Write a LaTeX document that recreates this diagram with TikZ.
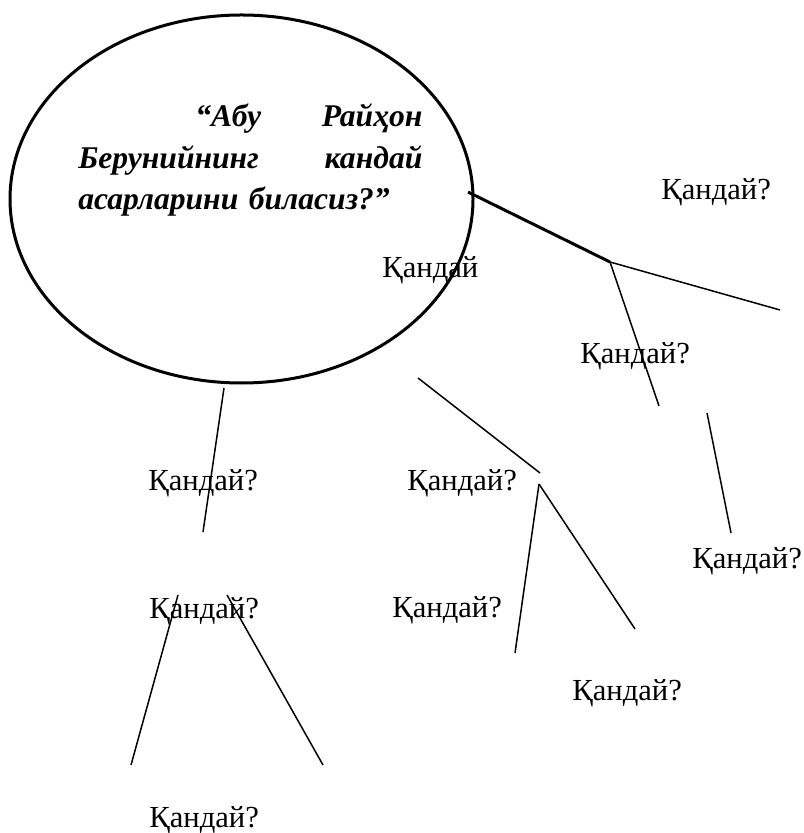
\documentclass[tikz,border=0pt]{standalone}
\usepackage{fontspec}
\setmainfont{Liberation Serif}
\usetikzlibrary{shapes.geometric}

\begin{document}
\begin{tikzpicture}[x=0.5pt, y=-0.5pt, font=\fontsize{15.3}{20.5}\selectfont]
\tikzstyle{ask}=[inner sep=0pt, anchor=base west]
\tikzstyle{twig}=[line width=0.75pt]
\tikzstyle{bough}=[line width=1.5pt]
\useasboundingbox (0,0) rectangle (803,833);
\node[draw, ellipse, line width=1.5pt, minimum width=231.5pt, minimum height=184pt, inner sep=0pt] (egg) at (241.5,199) {};
\node[ask, text width=172pt, align=left, font=\bfseries\itshape\fontsize{15.8}{20.7}\selectfont] (quest) at (78,127)
  {\hspace*{58.5pt}“Абу\hfill Райҳон\\Берунийнинг\hfill кандай\\асарларини биласиз?”};
\node[ask] (q1) at (661,200) {Қандай?};
\node[ask] (q2) at (382,278) {Қандай};
\node[ask] (q3) at (580,364) {Қандай?};
\node[ask] (q4) at (148,490) {Қандай?};
\node[ask] (q5) at (407,490) {Қандай?};
\node[ask] (q6) at (692,568) {Қандай?};
\node[ask] (q7) at (149,618) {Қандай?};
\node[ask] (q8) at (392,617) {Қандай?};
\node[ask] (q9) at (572,700) {Қандай?};
\node[ask] (q10) at (149,827) {Қандай?};
\coordinate (rim) at (468,192);
\coordinate (fork) at (610,262);
\coordinate (fork2) at (539,484);
\draw[bough] (rim) -- (fork);
\draw[twig] (fork) -- (780,310);
\draw[twig] (fork) -- (659,406);
\draw[twig] (418,378) -- (540,473);
\draw[twig] (707,413) -- (731,533);
\draw[twig] (224,388) -- (203,532);
\draw[twig] (fork2) -- (515,653);
\draw[twig] (fork2) -- (635,629);
\draw[twig] (178,595) -- (131,765);
\draw[twig] (227,595) -- (323,765);
\end{tikzpicture}
\end{document}
